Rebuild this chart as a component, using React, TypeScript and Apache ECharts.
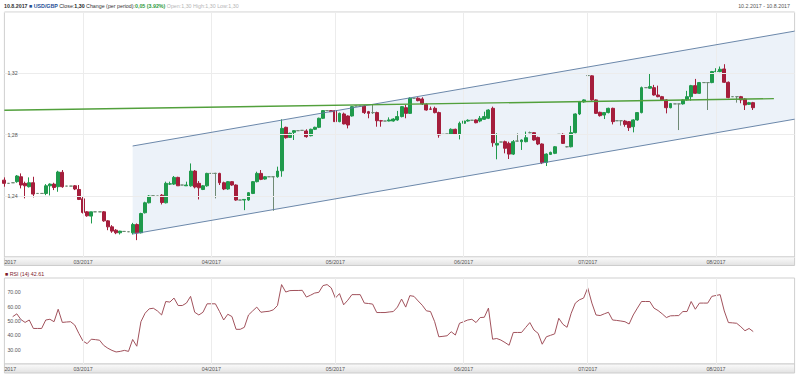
import React, { useEffect, useRef } from 'react';
import * as echarts from 'echarts';

const FONT = '"Liberation Sans", Arial, sans-serif';

// Calendar axis (daily, weekends included, as in the reference)
const START_DATE = '2017-02-10';
const AXIS_END_DATE = '2017-08-20';

// USD/GBP daily candles from 10.2.2017 to 10.8.2017
const opens = [
  1.2502, 1.2481, 1.2485, 1.2492, 1.2524, 1.2481, 1.2459, 1.2485, 1.2415, 1.2415,
  1.2415, 1.2465, 1.2476, 1.2459, 1.2553, 1.2463, 1.2463, 1.2465, 1.2441, 1.2380,
  1.2295, 1.2267, 1.2295, 1.2295, 1.2295, 1.2236, 1.2197, 1.2175, 1.2158, 1.2167,
  1.2165, 1.2158, 1.2212, 1.2158, 1.2289, 1.2354, 1.2400, 1.2398, 1.2404, 1.2354,
  1.2476, 1.2476, 1.2520, 1.2470, 1.2465, 1.2465, 1.2561, 1.2481, 1.2441, 1.2465,
  1.2546, 1.2546, 1.2546, 1.2485, 1.2444, 1.2492, 1.2470, 1.2372, 1.2372, 1.2372,
  1.2415, 1.2492, 1.2546, 1.2509, 1.2524, 1.2524, 1.2524, 1.2563, 1.2847, 1.2781,
  1.2814, 1.2825, 1.2827, 1.2823, 1.2792, 1.2834, 1.2847, 1.2906, 1.2956, 1.2956,
  1.2956, 1.2884, 1.2934, 1.2921, 1.2921, 1.2986, 1.2986, 1.2986, 1.2949, 1.2943,
  1.2943, 1.2890, 1.2888, 1.2888, 1.2888, 1.2895, 1.2917, 1.2975, 1.2938, 1.3037,
  1.3037, 1.3032, 1.2997, 1.2967, 1.2971, 1.2943, 1.2801, 1.2803, 1.2801, 1.2834,
  1.2801, 1.2873, 1.2888, 1.2893, 1.2895, 1.2888, 1.2899, 1.2906, 1.2971, 1.2731,
  1.2751, 1.2753, 1.2742, 1.2672, 1.2757, 1.2753, 1.2753, 1.2812, 1.2812, 1.2781,
  1.2738, 1.2618, 1.2670, 1.2677, 1.2801, 1.2801, 1.2720, 1.2720, 1.2812, 1.2934,
  1.3013, 1.3185, 1.3183, 1.3026, 1.2945, 1.2927, 1.2943, 1.2971, 1.2890, 1.2890,
  1.2888, 1.2884, 1.2851, 1.2895, 1.2943, 1.3106, 1.3102, 1.3106, 1.3058, 1.3047,
  1.3026, 1.2975, 1.3000, 1.3000, 1.3000, 1.3026, 1.3047, 1.3119, 1.3069, 1.3139,
  1.3139, 1.3139, 1.3211, 1.3211, 1.3228, 1.3141, 1.3047, 1.3047, 1.3047, 1.3032,
  1.2997, 1.3008,
];

const closes = [
  1.2481, 1.2481, 1.2485, 1.2529, 1.2470, 1.2465, 1.2485, 1.2411, 1.2415, 1.2415,
  1.2465, 1.2476, 1.2454, 1.2555, 1.2459, 1.2463, 1.2463, 1.2444, 1.2376, 1.2291,
  1.2269, 1.2295, 1.2295, 1.2295, 1.2236, 1.2197, 1.2169, 1.2158, 1.2169, 1.2167,
  1.2165, 1.2212, 1.2158, 1.2284, 1.2354, 1.2398, 1.2400, 1.2398, 1.2356, 1.2481,
  1.2478, 1.2520, 1.2465, 1.2470, 1.2470, 1.2561, 1.2457, 1.2452, 1.2465, 1.2546,
  1.2546, 1.2546, 1.2485, 1.2444, 1.2492, 1.2470, 1.2372, 1.2372, 1.2376, 1.2420,
  1.2492, 1.2546, 1.2507, 1.2524, 1.2524, 1.2524, 1.2561, 1.2840, 1.2779, 1.2808,
  1.2825, 1.2825, 1.2827, 1.2786, 1.2834, 1.2847, 1.2906, 1.2956, 1.2956, 1.2949,
  1.2884, 1.2938, 1.2869, 1.2862, 1.2982, 1.2986, 1.2986, 1.2943, 1.2938, 1.2943,
  1.2890, 1.2888, 1.2888, 1.2895, 1.2901, 1.2917, 1.2982, 1.2938, 1.3037, 1.3037,
  1.3021, 1.3000, 1.2960, 1.2965, 1.2943, 1.2797, 1.2801, 1.2803, 1.2834, 1.2801,
  1.2873, 1.2888, 1.2893, 1.2893, 1.2877, 1.2906, 1.2917, 1.2960, 1.2746, 1.2742,
  1.2751, 1.2710, 1.2672, 1.2753, 1.2757, 1.2764, 1.2779, 1.2812, 1.2764, 1.2738,
  1.2616, 1.2672, 1.2683, 1.2720, 1.2801, 1.2742, 1.2720, 1.2812, 1.2934, 1.3015,
  1.3026, 1.3185, 1.3026, 1.2938, 1.2923, 1.2943, 1.2971, 1.2884, 1.2890, 1.2890,
  1.2866, 1.2845, 1.2895, 1.2943, 1.3106, 1.3106, 1.3113, 1.3058, 1.3047, 1.3026,
  1.2975, 1.3002, 1.3000, 1.3000, 1.3026, 1.3047, 1.3119, 1.3069, 1.3139, 1.3139,
  1.3139, 1.3211, 1.3213, 1.3226, 1.3141, 1.3041, 1.3047, 1.3047, 1.3026, 1.2993,
  1.3008, 1.2975,
];

const lows = [
  1.2459, 1.2481, 1.2485, 1.2485, 1.2448, 1.2383, 1.2454, 1.2389, 1.2415, 1.2415,
  1.2404, 1.2402, 1.2437, 1.2426, 1.2452, 1.2463, 1.2463, 1.2437, 1.2372, 1.2284,
  1.2263, 1.2219, 1.2295, 1.2295, 1.2230, 1.2175, 1.2158, 1.2149, 1.2147, 1.2167,
  1.2165, 1.2147, 1.2110, 1.2154, 1.2284, 1.2350, 1.2400, 1.2398, 1.2343, 1.2350,
  1.2470, 1.2470, 1.2465, 1.2470, 1.2465, 1.2459, 1.2448, 1.2376, 1.2437, 1.2459,
  1.2546, 1.2383, 1.2470, 1.2437, 1.2439, 1.2465, 1.2367, 1.2372, 1.2306, 1.2367,
  1.2411, 1.2487, 1.2502, 1.2505, 1.2524, 1.2302, 1.2518, 1.2524, 1.2773, 1.2777,
  1.2764, 1.2825, 1.2827, 1.2779, 1.2788, 1.2829, 1.2842, 1.2901, 1.2956, 1.2947,
  1.2884, 1.2880, 1.2866, 1.2840, 1.2917, 1.2986, 1.2986, 1.2934, 1.2906, 1.2934,
  1.2851, 1.2851, 1.2888, 1.2886, 1.2884, 1.2890, 1.2912, 1.2906, 1.2934, 1.3037,
  1.3017, 1.2993, 1.2956, 1.2960, 1.2938, 1.2779, 1.2801, 1.2803, 1.2797, 1.2797,
  1.2768, 1.2869, 1.2884, 1.2893, 1.2873, 1.2880, 1.2895, 1.2901, 1.2720, 1.2638,
  1.2751, 1.2677, 1.2640, 1.2666, 1.2753, 1.2699, 1.2749, 1.2808, 1.2760, 1.2731,
  1.2607, 1.2594, 1.2666, 1.2672, 1.2799, 1.2738, 1.2716, 1.2716, 1.2808, 1.2927,
  1.3008, 1.3183, 1.3021, 1.2934, 1.2917, 1.2901, 1.2938, 1.2866, 1.2890, 1.2858,
  1.2851, 1.2823, 1.2814, 1.2890, 1.2938, 1.3106, 1.3098, 1.3054, 1.3043, 1.3021,
  1.2938, 1.2971, 1.3000, 1.2829, 1.2995, 1.3021, 1.3021, 1.3065, 1.3065, 1.3139,
  1.2960, 1.3135, 1.3207, 1.3207, 1.3137, 1.3037, 1.3047, 1.3008, 1.3004, 1.2960,
  1.2993, 1.2960,
];

const highs = [
  1.2520, 1.2481, 1.2485, 1.2535, 1.2546, 1.2492, 1.2520, 1.2524, 1.2415, 1.2415,
  1.2476, 1.2481, 1.2485, 1.2563, 1.2568, 1.2463, 1.2463, 1.2470, 1.2470, 1.2393,
  1.2300, 1.2295, 1.2295, 1.2295, 1.2300, 1.2241, 1.2208, 1.2182, 1.2171, 1.2167,
  1.2165, 1.2223, 1.2219, 1.2289, 1.2361, 1.2404, 1.2400, 1.2398, 1.2411, 1.2492,
  1.2492, 1.2529, 1.2524, 1.2470, 1.2492, 1.2611, 1.2568, 1.2496, 1.2470, 1.2550,
  1.2546, 1.2550, 1.2550, 1.2492, 1.2496, 1.2496, 1.2474, 1.2372, 1.2376, 1.2424,
  1.2496, 1.2557, 1.2568, 1.2529, 1.2524, 1.2524, 1.2590, 1.2899, 1.2851, 1.2812,
  1.2829, 1.2825, 1.2827, 1.2834, 1.2838, 1.2851, 1.2910, 1.2960, 1.2956, 1.2958,
  1.2960, 1.2943, 1.2943, 1.2925, 1.2986, 1.2986, 1.2986, 1.2993, 1.2954, 1.2997,
  1.2949, 1.2895, 1.2888, 1.2912, 1.2906, 1.2954, 1.2986, 1.2993, 1.3043, 1.3037,
  1.3043, 1.3043, 1.3004, 1.2982, 1.2982, 1.2949, 1.2801, 1.2803, 1.2840, 1.2838,
  1.2884, 1.2899, 1.2899, 1.2893, 1.2899, 1.2921, 1.2949, 1.2965, 1.2982, 1.2808,
  1.2751, 1.2760, 1.2753, 1.2764, 1.2808, 1.2768, 1.2819, 1.2819, 1.2816, 1.2786,
  1.2742, 1.2677, 1.2688, 1.2725, 1.2801, 1.2808, 1.2725, 1.2856, 1.2938, 1.3019,
  1.3030, 1.3189, 1.3187, 1.3030, 1.2949, 1.2947, 1.2975, 1.2975, 1.2890, 1.2890,
  1.2895, 1.2888, 1.2899, 1.2947, 1.3113, 1.3106, 1.3200, 1.3124, 1.3119, 1.3052,
  1.3030, 1.3006, 1.3000, 1.3000, 1.3030, 1.3085, 1.3124, 1.3163, 1.3143, 1.3139,
  1.3139, 1.3215, 1.3233, 1.3244, 1.3259, 1.3146, 1.3047, 1.3047, 1.3052, 1.3037,
  1.3013, 1.3013,
];

// RSI (14)
const rsi14 = [
  null, null, 53, 55, 51, 49, 50.7, 44.8, 44.8, 44.8,
  50.7, 51.2, 49.5, 58.2, 49, 49.3, 49.5, 47.2, 41.3, 36,
  34.2, 37.3, 37, 36.6, 33, 31, 29.5, 28.4, 28.8, 29.5,
  28.8, 37.1, 32.4, 49.5, 55.4, 58.5, 58.9, 57, 54.2, 63.6,
  63.2, 66, 60.8, 60.8, 62.5, 67.2, 56.1, 54.2, 56.1, 62,
  62, 62, 56.6, 50.7, 54.7, 53.1, 44.2, 44.2, 45.6, 54.2,
  57, 59.7, 56.1, 56.5, 56.8, 57.8, 60.8, 75.4, 70.2, 71.2,
  71.3, 71.3, 71.4, 66.7, 68, 69.5, 70, 74.7, 75.4, 73.1,
  66, 69.1, 61.3, 64.5, 68.4, 68.4, 68.4, 62.5, 62.2, 61.8,
  55.9, 55.9, 55.9, 56.3, 56.6, 59.7, 65.3, 59.7, 67.7, 67.2,
  64, 61, 57.1, 56.6, 49.5, 39, 39.3, 39.7, 42.5, 40.2,
  48.4, 49.5, 50.7, 51.2, 48.9, 52.4, 52.6, 59, 37.3, 37.8,
  36.7, 35, 33.1, 42, 42, 42, 45.5, 48.9, 43.7, 41.4,
  33.8, 39, 40, 41, 51.9, 47.7, 45.6, 55.4, 62.5, 64.8,
  66, 73.1, 62.5, 54.2, 53.8, 55, 56.1, 50.7, 50.4, 50,
  49.5, 47.9, 54.2, 59, 63.6, 63.6, 63.6, 59, 57.3, 55,
  52.4, 53.6, 53.7, 53.8, 56.6, 56.6, 63.6, 58.2, 62.5, 62.5,
  62.5, 67.2, 67.8, 68.4, 57, 48.9, 48.7, 48.4, 46, 43.2,
  44.8, 42.61,
];

// Trend channel and horizontal trend line
const channelDates = ['2017-03-13', '2017-08-20'];
const channelUpper = [1.2725, 1.3475];
const channelLower = [1.215, 1.29];
const trendDates = ['2017-02-10', '2017-08-15'];
const trendValues = [1.2958, 1.3034];

// Axis scales
const priceScale = { min: 1.2, max: 1.36, interval: 0.04 };
const rsiScale = { min: 20, max: 80, interval: 10 };

function buildDates(start: string, end: string): string[] {
  const out: string[] = [];
  const [y, m, d] = start.split('-').map(Number);
  const [y2, m2, d2] = end.split('-').map(Number);
  let t = Date.UTC(y, m - 1, d);
  const tEnd = Date.UTC(y2, m2 - 1, d2);
  while (t <= tEnd) {
    const dt = new Date(t);
    out.push(
      `${dt.getUTCFullYear()}-${String(dt.getUTCMonth() + 1).padStart(2, '0')}-${String(dt.getUTCDate()).padStart(2, '0')}`
    );
    t += 86400000;
  }
  return out;
}

function buildOption() {
  const dates = buildDates(START_DATE, AXIS_END_DATE);
  const candles = opens.map((o, i) => [o, closes[i], lows[i], highs[i]]);
  const isMonthStart = (i: number, v: string) => v.endsWith('-01');
  const labelFmt = (v: string, i: number) => (i === 0 ? v.slice(0, 4) : `${v.slice(5, 7)}/${v.slice(0, 4)}`);

  const xBase = (gridIndex: number) => ({
    type: 'category',
    gridIndex,
    data: dates,
    boundaryGap: false,
    z: 5,
    axisLine: { show: false },
    axisTick: { show: false },
    axisLabel: {
      interval: (i: number, v: string) => i === 0 || isMonthStart(i, v),
      formatter: labelFmt,
      fontSize: 5.3,
      fontFamily: FONT,
      color: '#555',
      margin: 2.5,
      alignMinLabel: 'left',
    },
    splitLine: { show: true, interval: isMonthStart, lineStyle: { color: '#ececec', width: 1 } },
  });

  const bandGradient = new echarts.graphic.LinearGradient(0, 0, 0, 1, [
    { offset: 0, color: '#fbfbfb' },
    { offset: 1, color: '#e2e2e2' },
  ]);

  const i0 = dates.indexOf(channelDates[0]);
  const i1 = dates.indexOf(channelDates[1]);

  return {
    animation: false,
    backgroundColor: '#ffffff',
    textStyle: { fontFamily: FONT },
    grid: [
      { left: 4.4, right: 5.4, top: 12, height: 245, show: true, borderColor: '#cfcfcf', borderWidth: 1, backgroundColor: 'transparent' },
      { left: 4.4, right: 5.4, top: 278, height: 86, show: true, borderColor: '#cfcfcf', borderWidth: 1, backgroundColor: 'transparent' },
    ],
    xAxis: [xBase(0), xBase(1)],
    yAxis: [
      {
        type: 'value',
        gridIndex: 0,
        min: priceScale.min,
        max: priceScale.max,
        interval: priceScale.interval,
        z: 5,
        axisLine: { show: false },
        axisTick: { show: false },
        axisLabel: {
          inside: true,
          margin: 3,
          showMinLabel: false,
          showMaxLabel: false,
          fontSize: 5.3,
          fontFamily: FONT,
          color: '#555',
          formatter: (v: number) => v.toFixed(2).replace('.', ','),
        },
        splitLine: { show: true, lineStyle: { color: '#ececec', width: 1 } },
      },
      {
        type: 'value',
        gridIndex: 1,
        min: rsiScale.min,
        max: rsiScale.max,
        interval: rsiScale.interval,
        z: 5,
        axisLine: { show: false },
        axisTick: { show: false },
        axisLabel: {
          inside: true,
          margin: 3,
          showMinLabel: false,
          showMaxLabel: false,
          fontSize: 5.3,
          fontFamily: FONT,
          color: '#555',
          formatter: (v: number) => v.toFixed(2),
        },
        splitLine: { show: false },
      },
    ],
    graphic: [
      {
        type: 'rect',
        z: 1,
        silent: true,
        shape: { x: 4.4, y: 257, width: 790.2, height: 8.5 },
        style: { fill: bandGradient, stroke: '#cdcdcd', lineWidth: 1 },
      },
      {
        type: 'rect',
        z: 1,
        silent: true,
        shape: { x: 4.4, y: 364, width: 790.2, height: 9 },
        style: { fill: bandGradient, stroke: '#cdcdcd', lineWidth: 1 },
      },
      {
        type: 'text',
        z: 6,
        x: 4,
        y: 6,
        style: {
          text:
            '{d|10.8.2017} {sq|■} {u|USD/GBP} {t|Close:}{b|1,30} {t|Change (per period):}{g|0,05 (3.92%)} {l|Open:1,30 High:1,30 Low:1,30}',
          fontSize: 5.3,
          fontFamily: FONT,
          fill: '#333',
          verticalAlign: 'middle',
          rich: {
            d: { fontSize: 5.3, fontFamily: FONT, fontWeight: 'bold', fill: '#333' },
            sq: { fontSize: 5.3, fontFamily: FONT, fill: '#1f4f96' },
            u: { fontSize: 5.3, fontFamily: FONT, fontWeight: 'bold', fill: '#1f4f96' },
            t: { fontSize: 5.3, fontFamily: FONT, fill: '#333' },
            b: { fontSize: 5.3, fontFamily: FONT, fontWeight: 'bold', fill: '#222' },
            g: { fontSize: 5.3, fontFamily: FONT, fontWeight: 'bold', fill: '#2e9a3e' },
            l: { fontSize: 5.3, fontFamily: FONT, fill: '#b5b5b5' },
          },
        },
      },
      {
        type: 'text',
        z: 6,
        x: 790,
        y: 6,
        style: {
          text: '10.2.2017 - 10.8.2017',
          fontSize: 5.3,
          fontFamily: FONT,
          fill: '#555',
          align: 'right',
          verticalAlign: 'middle',
        },
      },
      {
        type: 'text',
        z: 6,
        x: 5,
        y: 273.5,
        style: {
          text: '{sq|■} {r|RSI (14) 42.61}',
          fontSize: 5.3,
          fontFamily: FONT,
          fill: '#7d1b2a',
          verticalAlign: 'middle',
          rich: {
            sq: { fontSize: 5.3, fontFamily: FONT, fill: '#7d1b2a' },
            r: { fontSize: 5.3, fontFamily: FONT, fill: '#7d1b2a' },
          },
        },
      },
    ],
    series: [
      {
        name: 'channel',
        type: 'custom',
        xAxisIndex: 0,
        yAxisIndex: 0,
        silent: true,
        z: 1,
        data: [[i0, channelLower[0], channelUpper[0], i1, channelLower[1], channelUpper[1]]],
        renderItem: (params: any, api: any) => {
          const a = api.coord([api.value(0), api.value(1)]);
          const b = api.coord([api.value(0), api.value(2)]);
          const c = api.coord([api.value(3), api.value(5)]);
          const d = api.coord([api.value(3), api.value(4)]);
          return {
            type: 'polygon',
            shape: { points: [a, b, c, d] },
            style: { fill: '#ecf2f9' },
          };
        },
      },
      {
        name: 'USD/GBP',
        type: 'candlestick',
        xAxisIndex: 0,
        yAxisIndex: 0,
        z: 3,
        barWidth: 3.4,
        data: candles,
        itemStyle: {
          color: '#1f9a4c',
          color0: '#a51e3c',
          borderColor: '#1f9a4c',
          borderColor0: '#a51e3c',
          borderColorDoji: '#6f8a74',
          borderWidth: 1,
        },
        markLine: {
          silent: true,
          symbol: ['none', 'none'],
          label: { show: false },
          emphasis: { disabled: true },
          data: [
            [
              { coord: [channelDates[0], channelUpper[0]], lineStyle: { color: '#5b7aa0', width: 0.9, type: 'solid' } },
              { coord: [channelDates[1], channelUpper[1]] },
            ],
            [
              { coord: [channelDates[0], channelLower[0]], lineStyle: { color: '#5b7aa0', width: 0.9, type: 'solid' } },
              { coord: [channelDates[1], channelLower[1]] },
            ],
            [
              { coord: [trendDates[0], trendValues[0]], lineStyle: { color: '#52a03c', width: 1.4, type: 'solid' } },
              { coord: [trendDates[1], trendValues[1]] },
            ],
          ],
        },
      },
      {
        name: 'RSI (14)',
        type: 'line',
        xAxisIndex: 1,
        yAxisIndex: 1,
        data: rsi14,
        symbol: 'none',
        lineStyle: { color: '#a1525c', width: 1 },
        z: 3,
      },
    ],
  };
}

export default function App() {
  const ref = useRef<HTMLDivElement>(null);
  useEffect(() => {
    const chart = echarts.init(ref.current as HTMLDivElement, null, { renderer: 'svg' });
    chart.setOption(buildOption() as any);
    return () => {
      chart.dispose();
    };
  }, []);
  return (
    <div
      ref={ref}
      style={{ position: 'absolute', left: 0, top: 0, width: 800, height: 374, background: '#ffffff' }}
    />
  );
}
